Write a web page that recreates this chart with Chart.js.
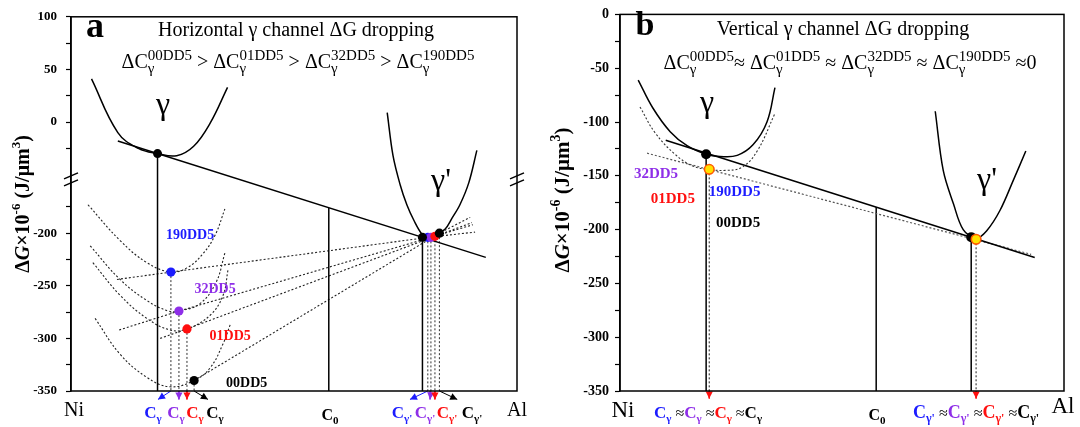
<!DOCTYPE html>
<html>
<head>
<meta charset="utf-8">
<script src="https://cdn.jsdelivr.net/npm/chart.js@4.4.1/dist/chart.umd.min.js"></script>
<style>
  html, body { margin: 0; padding: 0; background: #fff; }
  #wrap { position: relative; width: 1080px; height: 427px; overflow: hidden; }
  canvas { position: absolute; top: 0; }
  #chartA { left: 0; }
  #chartB { left: 540px; }
</style>
</head>
<body>
<div id="wrap">
  <canvas id="chartA" width="540" height="427"></canvas>
  <canvas id="chartB" width="540" height="427"></canvas>
</div>
<script>
// ---------- panel a: horizontal channel (y axis broken between 0 and -200) ----------
const A_TICKS = [100, 50, 0, -200, -250, -300, -350];
const A_MINOR = [75, 25, -25, -175, -225, -275, -325];

const A_GAMMA_X = [4.6, 10.5, 15.1, 19.4, 23.7, 27.5, 31.2, 35.1];
const A_GAMMA_Y = [41, -10, -25, -30, -32, -23, -1, 33];
const A_GAMMAP_X = [70.9, 72.2, 73.8, 75.3, 76.9, 78.7, 80.0, 81.8, 83.9, 85.4, 87.2, 89.2, 91.0];
const A_GAMMAP_Y = [9, -32, -154, -173, -188, -201, -204, -201, -196, -186, -173, -152, -27];
const A_TANGENT_X = [10.5, 93.0];
const A_TANGENT_Y = [-18, -223];
const A_TOUCH_X = [19.4, 78.8];
const A_TOUCH_Y = [-30, -204];
const A_C0_X = 57.8;
const A_C0_TOP = -176;

const ALLOYS = ['190DD5', '32DD5', '01DD5', '00DD5'];
const A_DOT_X = [22.4, 24.2, 26.0, 27.6];
const A_DOT_Y = [-237, -274, -291, -340];
const A_DOTP_X = [80.0, 80.7, 81.6, 82.6];
const A_DOTP_Y = [-204, -204, -203, -200];
const A_LINE_X0 = [10.3, 10.8, 20.0, 27.6];
const A_LINE_Y0 = [-244, -292, -300, -340];
const A_LINE_X1 = [90.6, 90.1, 89.9, 89.5];
const A_LINE_Y1 = [-199, -192, -190, -185];
const A_CURVE_X = [
  [3.8, 11.0, 17.0, 22.4, 26.0, 29.5, 32.3, 34.5],
  [4.3, 11.0, 17.0, 21.8, 24.2, 28.9, 32.5, 34.5],
  [4.9, 11.0, 17.0, 22.2, 26.0, 31.2, 34.1, 35.2],
  [5.4, 11.0, 17.0, 22.2, 27.6, 31.2, 34.1, 35.7]
];
const A_CURVE_Y = [
  [-173, -207, -228, -237, -233, -220, -202, -177],
  [-212, -244, -264, -274, -274, -267, -247, -219],
  [-228, -259, -281, -292, -291, -278, -259, -235],
  [-281, -315, -337, -346, -340, -328, -305, -287]
];
const A_ARROW_X = [19.5, 24.2, 26.0, 30.7];
const A_ARROWP_X = [76.0, 80.5, 81.6, 86.6];
const A_ARROW_Y = -358;

// ---------- panel b: vertical channel ----------
const B_TICKS = [0, -50, -100, -150, -200, -250, -300, -350];
const B_GAMMA_X = [4.1, 7.4, 11.3, 15.1, 19.4, 22.5, 26.4, 30.0, 33.1, 34.9];
const B_GAMMA_Y = [-61, -87, -109, -122, -130, -132, -131, -121, -100, -68];
const B_GAMMA2_X = [4.5, 7.9, 12.4, 16.4, 20.0, 23.7, 27.5, 30.9, 34.9];
const B_GAMMA2_Y = [-86, -110, -130, -141, -144, -145, -142, -127, -92];
const B_GAMMAP_X = [71.0, 72.8, 75.1, 77.3, 80.2, 82.6, 85.6, 88.6, 91.4];
const B_GAMMAP_Y = [-90, -145, -176, -200, -208, -201, -182, -154, -127];
const B_TANGENT_X = [10.3, 93.4];
const B_TANGENT_Y = [-117, -226];
const B_TANGENT2_X = [6.1, 92.6];
const B_TANGENT2_Y = [-129, -223];
const B_BLACK_X = [19.4, 79.1];
const B_BLACK_Y = [-130, -207];
const B_YELLOW_X = [20.1, 80.2];
const B_YELLOW_Y = [-144, -209];
const B_C0_X = 57.7;
const B_C0_TOP = -179;
const B_ARROW_Y = -357;

// ---------- styling ----------
const SERIF = '"Liberation Serif", "Times New Roman", serif';
const font = (size, weight = 'normal', style = 'normal') => `${style} ${weight} ${size}px ${SERIF}`;
const BLUE = '#1c1cff', PURPLE = '#8e2ee8', RED = '#ff0f0f', BLACK = '#000';
const ALLOY_COLORS = [BLUE, PURPLE, RED, BLACK];
const DOTTED = [2, 2];

const SHIFT = 94.4;  // how much of the axis is cut out by the break
const disp = v => v < -100 ? v + SHIFT : v;
const real = d => d < -55 ? d - SHIFT : d;
const ident = v => v;

const pts = (xs, ys, f) => xs.map((x, i) => ({ x: x, y: f(ys[i]) }));

const line = (data, extra) => Object.assign({
  data: data, showLine: true, pointRadius: 0, borderColor: '#000',
  borderWidth: 1.5, tension: 0, order: 2
}, extra || {});

// arrow: a two point line below the axis, its head drawn by the arrowheads plugin
const arrow = (x0, y0, x1, y1, color, f) => ({
  data: [{ x: x0, y: f(y0) }, { x: x1, y: f(y1) }],
  showLine: true, clip: false, borderColor: color, borderWidth: 1, order: 1,
  pointRadius: 0, arrowHead: color
});

// ---------- rich text ----------
function segWidth(ctx, s) {
  if (s.stack) {
    ctx.font = s.f;
    return Math.max(ctx.measureText(s.sub).width, ctx.measureText(s.sup).width) + (s.gap || 0);
  }
  ctx.font = s.f;
  return ctx.measureText(s.t).width + (s.gap || 0);
}

function drawRich(ctx, x, y, segs, align) {
  ctx.save();
  ctx.textBaseline = 'alphabetic';
  ctx.textAlign = 'left';
  let w = 0;
  segs.forEach(s => { w += segWidth(ctx, s); });
  let cx = align === 'left' ? x : align === 'right' ? x - w : x - w / 2;
  segs.forEach(s => {
    ctx.fillStyle = s.c || '#000';
    ctx.font = s.f;
    if (s.stack) {
      ctx.fillText(s.sub, cx, y + s.subDy);
      ctx.fillText(s.sup, cx, y + s.supDy);
    } else {
      ctx.fillText(s.t, cx, y + (s.dy || 0));
    }
    cx += segWidth(ctx, s);
  });
  ctx.restore();
}

const T = (t, f, c, dy, gap) => ({ t: t, f: f, c: c, dy: dy, gap: gap });
const dC = (name, big, small) => [
  T('ΔC', font(big)),
  { stack: true, sub: 'γ', sup: name, f: font(small), subDy: 5, supDy: -8 }
];

const cLabel = (sub, color, big, small) => [T('C', font(big, 'bold'), color), T(sub, font(small, 'bold'), color, 4)];

const yTitle = size => [
  T('Δ', font(size, 'bold')), T('G', font(size, 'bold', 'italic')), T('×10', font(size, 'bold')),
  T('-6', font(Math.round(size * 0.65), 'bold'), '#000', -Math.round(size * 0.45)),
  T(' (J/μm', font(size, 'bold')),
  T('3', font(Math.round(size * 0.65), 'bold'), '#000', -Math.round(size * 0.45)),
  T(')', font(size, 'bold'))
];

// ---------- plugins ----------
const frame = {
  id: 'frame',
  afterDraw(chart, args, opts) {
    const { ctx, chartArea: a } = chart;
    ctx.save();
    ctx.strokeStyle = '#000';
    ctx.lineWidth = 1.5;
    ctx.strokeRect(a.left, a.top, a.right - a.left, a.bottom - a.top);
    if (opts.breakAt !== undefined) {
      const y = chart.scales.y.getPixelForValue(opts.breakAt);
      [a.left, a.right].forEach(x => {
        ctx.beginPath();
        ctx.moveTo(x - 7, y - 1); ctx.lineTo(x + 7, y - 7);
        ctx.moveTo(x - 7, y + 6); ctx.lineTo(x + 7, y);
        ctx.stroke();
      });
    }
    ctx.restore();
  }
};

const arrowheads = {
  id: 'arrowheads',
  afterDatasetsDraw(chart) {
    const ctx = chart.ctx;
    chart.data.datasets.forEach((ds, i) => {
      if (!ds.arrowHead) return;
      const meta = chart.getDatasetMeta(i);
      const p0 = meta.data[0], p1 = meta.data[1];
      const ang = Math.atan2(p1.y - p0.y, p1.x - p0.x);
      const len = 7, half = 3.6;
      ctx.save();
      ctx.translate(p1.x, p1.y);
      ctx.rotate(ang);
      ctx.fillStyle = ds.arrowHead;
      ctx.beginPath();
      ctx.moveTo(0, 0);
      ctx.lineTo(-len, -half);
      ctx.lineTo(-len, half);
      ctx.closePath();
      ctx.fill();
      ctx.restore();
    });
  }
};

const notes = {
  id: 'notes',
  afterDraw(chart, args, opts) {
    const { ctx } = chart;
    const xs = chart.scales.x, ys = chart.scales.y;
    (opts.items || []).forEach(it => {
      let x = it.x, y = it.y;
      if (it.data) { x = xs.getPixelForValue(it.x); y = ys.getPixelForValue(it.y); }
      if (it.rotate) {
        ctx.save();
        ctx.translate(x, y);
        ctx.rotate(-Math.PI / 2);
        drawRich(ctx, 0, 0, it.segs, 'center');
        ctx.restore();
      } else if (it.segs) {
        drawRich(ctx, x, y, it.segs, it.align || 'center');
      } else {
        ctx.save();
        ctx.font = it.f;
        ctx.fillStyle = it.c || '#000';
        ctx.textAlign = 'center';
        ctx.textBaseline = it.base || 'middle';
        ctx.fillText(it.t, x, y);
        ctx.restore();
      }
    });
  }
};

const baseOptions = (yScale, padding, notesItems, breakAt) => ({
  responsive: false,
  animation: false,
  events: [],
  layout: { padding: padding },
  scales: {
    x: { type: 'linear', min: 0, max: 100, display: false },
    y: yScale
  },
  plugins: {
    legend: { display: false },
    tooltip: { enabled: false },
    frame: { breakAt: breakAt },
    notes: { items: notesItems }
  }
});

// ---------- panel a ----------
const dsA = [];
dsA.push({ data: pts(A_TOUCH_X, A_TOUCH_Y, disp), pointRadius: 4.5, pointBackgroundColor: '#000', pointBorderWidth: 0, order: 0 });
// gamma' cluster, topmost first
[3, 2, 1, 0].forEach(i => dsA.push({
  data: [{ x: A_DOTP_X[i], y: disp(A_DOTP_Y[i]) }], pointRadius: 4.6,
  pointBackgroundColor: ALLOY_COLORS[i], pointBorderWidth: 0, order: 0
}));
dsA.push({ data: pts(A_DOT_X, A_DOT_Y, disp), pointRadius: 4.6, pointBackgroundColor: ALLOY_COLORS, pointBorderWidth: 0, order: 0 });

dsA.push(line(pts(A_GAMMA_X, A_GAMMA_Y, disp), { tension: 0.4 }));
dsA.push(line(pts(A_GAMMAP_X, A_GAMMAP_Y, disp), { tension: 0.35 }));
dsA.push(line(pts(A_TANGENT_X, A_TANGENT_Y, disp)));
dsA.push(line([{ x: A_TOUCH_X[0], y: disp(A_TOUCH_Y[0]) }, { x: A_TOUCH_X[0], y: disp(-350) }]));
dsA.push(line([{ x: A_TOUCH_X[1], y: disp(A_TOUCH_Y[1]) }, { x: A_TOUCH_X[1], y: disp(-350) }]));
dsA.push(line([{ x: A_C0_X, y: disp(A_C0_TOP) }, { x: A_C0_X, y: disp(-350) }]));

ALLOYS.forEach((name, i) => {
  dsA.push(line(pts(A_CURVE_X[i], A_CURVE_Y[i], disp), { tension: 0.4, borderDash: DOTTED, borderWidth: 1.1, borderColor: '#222' }));
  dsA.push(line(pts([A_LINE_X0[i], A_DOT_X[i], A_DOTP_X[i], A_LINE_X1[i]], [A_LINE_Y0[i], A_DOT_Y[i], A_DOTP_Y[i], A_LINE_Y1[i]], disp),
    { borderDash: DOTTED, borderWidth: 1.1, borderColor: '#222' }));
  dsA.push(line([{ x: A_DOT_X[i], y: disp(A_DOT_Y[i]) }, { x: A_DOT_X[i], y: disp(-350) }], { borderDash: DOTTED, borderWidth: 1, borderColor: '#333' }));
  dsA.push(line([{ x: A_DOTP_X[i], y: disp(A_DOTP_Y[i]) }, { x: A_DOTP_X[i], y: disp(-350) }], { borderDash: DOTTED, borderWidth: 1, borderColor: '#333' }));
  dsA.push(arrow(A_DOT_X[i], -350, A_ARROW_X[i], A_ARROW_Y, ALLOY_COLORS[i], disp));
  dsA.push(arrow(A_DOTP_X[i], -350, A_ARROWP_X[i], A_ARROW_Y, ALLOY_COLORS[i], disp));
});

const notesA = [
  { t: 'a', f: font(36, 'bold'), x: 95, y: 37, base: 'alphabetic' },
  { t: 'Horizontal γ channel ΔG dropping', f: font(20), x: 296, y: 36, base: 'alphabetic' },
  { segs: [].concat(dC('00DD5', 20, 15), [T(' > ', font(20))], dC('01DD5', 20, 15), [T(' > ', font(20))],
      dC('32DD5', 20, 15), [T(' > ', font(20))], dC('190DD5', 20, 15)), x: 298, y: 68 },
  { t: 'γ', f: font(32), x: 163, y: 106 },
  { t: "γ'", f: font(32), x: 441, y: 182 },
  { segs: yTitle(20), rotate: true, x: 29, y: 204 },
  { t: 'Ni', f: font(20), x: 74, y: 416, base: 'alphabetic' },
  { t: 'Al', f: font(20), x: 517, y: 416, base: 'alphabetic' },
  { segs: cLabel('0', '#000', 16, 11), x: 330, y: 420 },
  { segs: cLabel('γ', BLUE, 17, 11), x: 153, y: 418 },
  { segs: cLabel('γ', PURPLE, 17, 11), x: 176, y: 418 },
  { segs: cLabel('γ', RED, 17, 11), x: 195, y: 418 },
  { segs: cLabel('γ', BLACK, 17, 11), x: 215, y: 418 },
  { segs: cLabel("γ'", BLUE, 17, 11), x: 402, y: 418 },
  { segs: cLabel("γ'", PURPLE, 17, 11), x: 425, y: 418 },
  { segs: cLabel("γ'", RED, 17, 11), x: 447, y: 418 },
  { segs: cLabel("γ'", BLACK, 17, 11), x: 472, y: 418 },
  { t: '190DD5', f: font(14, 'bold'), c: BLUE, data: true, x: 26.7, y: disp(-202) },
  { t: '32DD5', f: font(14, 'bold'), c: PURPLE, data: true, x: 32.3, y: disp(-253) },
  { t: '01DD5', f: font(14, 'bold'), c: RED, data: true, x: 35.7, y: disp(-298) },
  { t: '00DD5', f: font(14, 'bold'), c: BLACK, data: true, x: 39.4, y: disp(-343) }
];

const yA = {
  type: 'linear', min: disp(-350), max: 100,
  afterBuildTicks: s => { s.ticks = A_TICKS.concat(A_MINOR).map(disp).sort((a, b) => a - b).map(v => ({ value: v })); },
  afterFit: s => { s.width = 71; },
  ticks: {
    autoSkip: false, color: '#000', padding: 9, font: { family: SERIF, size: 13, weight: 'bold' },
    callback: v => { const r = Math.round(real(v)); return A_TICKS.includes(r) ? String(r) : ''; }
  },
  grid: { drawOnChartArea: false, tickLength: 5, tickColor: '#000', tickWidth: 1.2 },
  border: { display: true, color: '#000', width: 1.5 }
};

new Chart(document.getElementById('chartA'), {
  type: 'scatter',
  data: { datasets: dsA },
  options: baseOptions(yA, { left: 0, right: 23, top: 8, bottom: 36 }, notesA, disp(-55)),
  plugins: [arrowheads, frame, notes]
});

// ---------- panel b ----------
const dsB = [];
dsB.push({ data: pts(B_YELLOW_X, B_YELLOW_Y, ident), pointRadius: 4.8, pointBackgroundColor: '#ffe100', pointBorderColor: '#ff5a00', pointBorderWidth: 1.6, order: 0 });
dsB.push({ data: pts(B_BLACK_X, B_BLACK_Y, ident), pointRadius: 5, pointBackgroundColor: '#000', pointBorderWidth: 0, order: 0 });
dsB.push(line(pts(B_GAMMA_X, B_GAMMA_Y, ident), { tension: 0.4 }));
dsB.push(line(pts(B_GAMMA2_X, B_GAMMA2_Y, ident), { tension: 0.4, borderDash: DOTTED, borderWidth: 1.1, borderColor: '#333' }));
dsB.push(line(pts(B_GAMMAP_X, B_GAMMAP_Y, ident), { tension: 0.35 }));
dsB.push(line(pts(B_TANGENT_X, B_TANGENT_Y, ident)));
dsB.push(line(pts(B_TANGENT2_X, B_TANGENT2_Y, ident), { borderDash: DOTTED, borderWidth: 1.2, borderColor: '#555' }));
dsB.push(line([{ x: B_C0_X, y: B_C0_TOP }, { x: B_C0_X, y: -350 }]));
B_BLACK_X.forEach((x, i) => dsB.push(line([{ x: x, y: B_BLACK_Y[i] }, { x: x, y: -350 }])));
B_YELLOW_X.forEach((x, i) => {
  dsB.push(line([{ x: x, y: B_YELLOW_Y[i] }, { x: x, y: -350 }], { borderDash: DOTTED, borderWidth: 1.1, borderColor: '#333' }));
  dsB.push(arrow(x, -350, x, B_ARROW_Y, RED, ident));
});

const approxRow = (sub, big, small) => {
  const segs = [];
  ALLOY_COLORS.forEach((c, i) => {
    if (i > 0) segs.push(T(' ≈', font(16), '#000'));
    segs.push(...cLabel(sub, c, big, small));
  });
  return segs;
};

const notesB = [
  { t: 'b', f: font(34, 'bold'), x: 105, y: 35, base: 'alphabetic' },
  { t: 'Vertical γ channel ΔG dropping', f: font(20), x: 303, y: 35, base: 'alphabetic' },
  { segs: [].concat(dC('00DD5', 20, 15), [T('≈ ', font(20))], dC('01DD5', 20, 15), [T(' ≈ ', font(20))],
      dC('32DD5', 20, 15), [T(' ≈ ', font(20))], dC('190DD5', 20, 15), [T(' ≈0', font(20))]), x: 310, y: 69 },
  { t: 'γ', f: font(32), x: 167, y: 104 },
  { t: "γ'", f: font(32), x: 447, y: 181 },
  { segs: yTitle(21), rotate: true, x: 29, y: 200 },
  { t: 'Ni', f: font(23), x: 83, y: 417, base: 'alphabetic' },
  { t: 'Al', f: font(23), x: 523, y: 413, base: 'alphabetic' },
  { segs: cLabel('0', '#000', 16, 11), x: 337, y: 420 },
  { segs: approxRow('γ', 17, 11), x: 114, y: 418, align: 'left' },
  { segs: approxRow("γ'", 18, 12), x: 373, y: 418, align: 'left' },
  { t: '32DD5', f: font(15, 'bold'), c: PURPLE, data: true, x: 8.1, y: -148 },
  { t: '01DD5', f: font(15, 'bold'), c: RED, data: true, x: 11.9, y: -172 },
  { t: '190DD5', f: font(15, 'bold'), c: BLUE, data: true, x: 25.8, y: -165 },
  { t: '00DD5', f: font(15, 'bold'), c: BLACK, data: true, x: 26.6, y: -194 }
];

const yB = {
  type: 'linear', min: -350, max: 0,
  afterFit: s => { s.width = 80; },
  ticks: {
    stepSize: 25, autoSkip: false, color: '#000', padding: 6, font: { family: SERIF, size: 14, weight: 'bold' },
    callback: v => B_TICKS.includes(v) ? String(v) : ''
  },
  grid: { drawOnChartArea: false, tickLength: 5, tickColor: '#000', tickWidth: 1.2 },
  border: { display: true, color: '#000', width: 1.5 }
};

new Chart(document.getElementById('chartB'), {
  type: 'scatter',
  data: { datasets: dsB },
  options: baseOptions(yB, { left: 0, right: 16, top: 8, bottom: 36 }, notesB, undefined),
  plugins: [arrowheads, frame, notes]
});
</script>
</body>
</html>
